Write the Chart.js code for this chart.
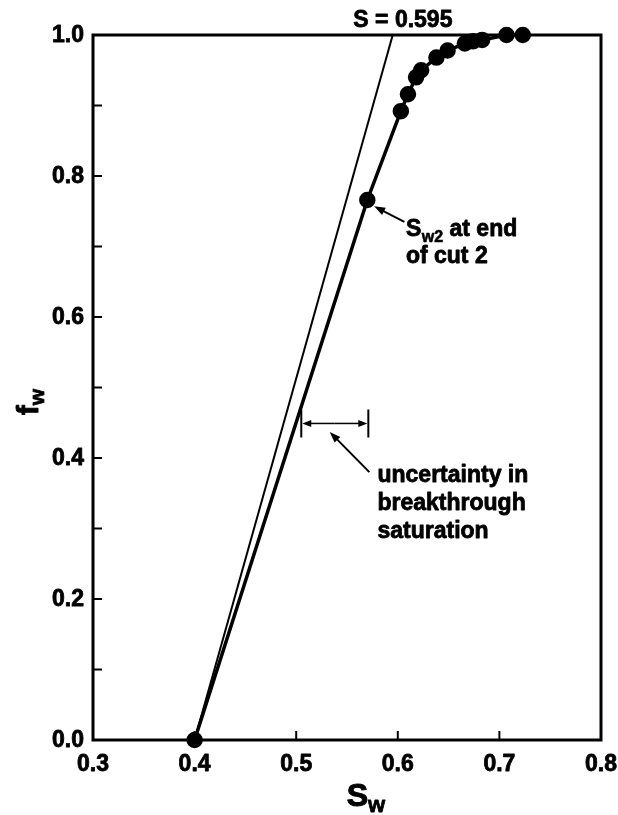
<!DOCTYPE html>
<html>
<head>
<meta charset="utf-8">
<script src="https://cdn.jsdelivr.net/npm/chart.js@4.4.1/dist/chart.umd.min.js"></script>
<style>
  html, body { margin: 0; padding: 0; background: #fff; }
  #wrap { width: 618px; height: 815px; position: relative; }
</style>
</head>
<body>
<div id="wrap"><canvas id="c" width="618" height="815"></canvas></div>
<script>
// Fractional flow curve: water saturation vs. water fractional flow
const sw = [0.400, 0.570, 0.603, 0.610, 0.618, 0.623, 0.638, 0.649, 0.666, 0.674, 0.683, 0.707, 0.723];
const fw = [0.000, 0.766, 0.892, 0.916, 0.940, 0.950, 0.968, 0.978, 0.988, 0.991, 0.993, 1.000, 1.000];

// Tangent from the initial saturation to fw = 1
const tangentSw = [0.400, 0.595];
const tangentFw = [0.000, 1.000];

// Axis ticks
const xTickValues = [0.3, 0.4, 0.5, 0.6, 0.7, 0.8];
const xTickLabels = ['0.3', '0.4', '0.5', '0.6', '0.7', '0.8'];
const yTickValues = [0.0, 0.2, 0.4, 0.6, 0.8, 1.0];
const yTickLabels = ['0.0', '0.2', '0.4', '0.6', '0.8', '1.0'];
const yMinorTicks = [0.1, 0.2, 0.3, 0.4, 0.5, 0.6, 0.7, 0.8, 0.9];
const xMinorTicks = [0.4, 0.5, 0.6, 0.7];

// Uncertainty range in breakthrough saturation
const breakthroughRange = [0.505, 0.571];
const breakthroughFw = 0.449;

const FONT = '"Liberation Sans", Arial, Helvetica, sans-serif';

// heavy text: fill plus a thin stroke of the same colour
function heavyText(ctx, text, x, y, weight) {
  ctx.fillText(text, x, y);
  ctx.save();
  ctx.lineWidth = weight || 0.8;
  ctx.lineJoin = 'round';
  ctx.strokeText(text, x, y);
  ctx.restore();
}

function arrow(ctx, x1, y1, x2, y2, len, half) {
  const a = Math.atan2(y2 - y1, x2 - x1);
  ctx.beginPath();
  ctx.moveTo(x1, y1);
  ctx.lineTo(x2 - Math.cos(a) * len * 0.6, y2 - Math.sin(a) * len * 0.6);
  ctx.stroke();
  ctx.beginPath();
  ctx.moveTo(x2, y2);
  ctx.lineTo(x2 - Math.cos(a) * len + Math.sin(a) * half, y2 - Math.sin(a) * len - Math.cos(a) * half);
  ctx.lineTo(x2 - Math.cos(a) * len - Math.sin(a) * half, y2 - Math.sin(a) * len + Math.cos(a) * half);
  ctx.closePath();
  ctx.fill();
}

const annotations = {
  id: 'annotations',
  afterDatasetsDraw(chart) {
    const { ctx, chartArea: ca, scales } = chart;
    const X = v => scales.x.getPixelForValue(v);
    const Y = v => scales.y.getPixelForValue(v);
    ctx.save();
    ctx.fillStyle = '#000';
    ctx.strokeStyle = '#000';

    // frame
    ctx.lineWidth = 3;
    ctx.strokeRect(ca.left, ca.top, ca.right - ca.left, ca.bottom - ca.top);

    // inward minor ticks
    ctx.lineWidth = 2;
    yMinorTicks.forEach(v => {
      ctx.beginPath();
      ctx.moveTo(ca.left, Y(v));
      ctx.lineTo(ca.left + 9, Y(v));
      ctx.stroke();
    });
    xMinorTicks.forEach(v => {
      ctx.beginPath();
      ctx.moveTo(X(v), ca.bottom);
      ctx.lineTo(X(v), ca.bottom - 9);
      ctx.stroke();
    });

    // tick labels
    ctx.font = 'bold 23px ' + FONT;
    ctx.textAlign = 'right';
    ctx.textBaseline = 'middle';
    yTickValues.forEach((v, i) => heavyText(ctx, yTickLabels[i], ca.left - 9, Y(v) + 1));
    ctx.textAlign = 'center';
    ctx.textBaseline = 'alphabetic';
    xTickValues.forEach((v, i) => heavyText(ctx, xTickLabels[i], X(v), ca.bottom + 31));

    // tangent label
    ctx.font = 'bold 23px ' + FONT;
    ctx.textAlign = 'center';
    heavyText(ctx, 'S = 0.595', X(0.605), ca.top - 8);

    // Sw2 label and arrow
    ctx.lineWidth = 2;
    arrow(ctx, X(0.6065), Y(0.735), X(0.5767), Y(0.757), 11, 4);
    ctx.textAlign = 'left';
    let tx = X(0.608);
    const b1 = Y(0.715), b2 = Y(0.677);
    ctx.font = 'bold 23px ' + FONT;
    heavyText(ctx, 'S', tx, b1);
    tx += ctx.measureText('S').width + 0.5;
    ctx.font = 'bold 16px ' + FONT;
    heavyText(ctx, 'w2', tx, b1 + 6, 0.6);
    tx += ctx.measureText('w2').width;
    ctx.font = 'bold 23px ' + FONT;
    heavyText(ctx, ' at end', tx, b1);
    heavyText(ctx, 'of cut 2', X(0.608), b2);

    // breakthrough uncertainty bar
    const yb = Y(breakthroughFw);
    const xl = X(breakthroughRange[0]), xr = X(breakthroughRange[1]);
    ctx.lineWidth = 2;
    ctx.beginPath();
    ctx.moveTo(xl, yb - 14); ctx.lineTo(xl, yb + 14);
    ctx.moveTo(xr, yb - 14); ctx.lineTo(xr, yb + 14);
    ctx.stroke();
    const mid = (xl + xr) / 2;
    ctx.lineWidth = 1.5;
    arrow(ctx, mid, yb, xl + 1, yb, 9, 3.5);
    arrow(ctx, mid, yb, xr - 1, yb, 9, 3.5);
    ctx.lineWidth = 2;
    arrow(ctx, X(0.572), Y(0.380), X(0.533), Y(0.437), 11, 4);

    ctx.font = 'bold 23px ' + FONT;
    heavyText(ctx, 'uncertainty in', X(0.580), Y(0.366));
    heavyText(ctx, 'breakthrough', X(0.580), Y(0.326));
    heavyText(ctx, 'saturation', X(0.580), Y(0.287));

    // axis titles
    ctx.textAlign = 'left';
    ctx.font = 'bold 32px ' + FONT;
    const sW = ctx.measureText('S').width;
    ctx.font = 'bold 22px ' + FONT;
    const wW = ctx.measureText('w').width;
    let ax = 366 - (sW + wW) / 2;
    ctx.font = 'bold 32px ' + FONT;
    heavyText(ctx, 'S', ax, 806, 1);
    ctx.font = 'bold 22px ' + FONT;
    heavyText(ctx, 'w', ax + sW, 812);

    ctx.save();
    ctx.translate(38, 402);
    ctx.rotate(-Math.PI / 2);
    ctx.font = 'bold 29px ' + FONT;
    const fW = ctx.measureText('f').width;
    ctx.font = 'bold 21px ' + FONT;
    const w2 = ctx.measureText('w').width;
    const fx = -(fW + w2) / 2;
    ctx.font = 'bold 29px ' + FONT;
    heavyText(ctx, 'f', fx, 0, 1);
    ctx.font = 'bold 21px ' + FONT;
    heavyText(ctx, 'w', fx + fW, 6);
    ctx.restore();

    ctx.restore();
  }
};

const chart = new Chart(document.getElementById('c'), {
  type: 'scatter',
  data: {
    datasets: [
      {
        label: 'tangent',
        data: tangentSw.map((s, i) => ({ x: s, y: tangentFw[i] })),
        showLine: true,
        borderColor: '#000',
        borderWidth: 2,
        pointRadius: 0,
        fill: false
      },
      {
        label: 'fw',
        data: sw.map((s, i) => ({ x: s, y: fw[i] })),
        showLine: true,
        borderColor: '#000',
        borderWidth: 3.5,
        backgroundColor: '#000',
        pointBackgroundColor: '#000',
        pointBorderColor: '#000',
        pointRadius: 6.5,
        fill: false
      }
    ]
  },
  options: {
    responsive: false,
    animation: false,
    events: [],
    clip: false,
    layout: { padding: { left: 0, top: 35, right: 17, bottom: 0 } },
    plugins: { legend: { display: false }, tooltip: { enabled: false } },
    scales: {
      x: {
        type: 'linear',
        min: 0.3, max: 0.8,
        afterFit: s => { s.height = 75; },
        afterBuildTicks: s => { s.ticks = xTickValues.map(v => ({ value: v })); },
        grid: { display: false, drawTicks: false },
        border: { display: false },
        ticks: { display: false }
      },
      y: {
        type: 'linear',
        min: 0, max: 1,
        afterFit: s => { s.width = 93; },
        afterBuildTicks: s => { s.ticks = yTickValues.map(v => ({ value: v })); },
        grid: { display: false, drawTicks: false },
        border: { display: false },
        ticks: { display: false }
      }
    }
  },
  plugins: [annotations]
});
</script>
</body>
</html>
